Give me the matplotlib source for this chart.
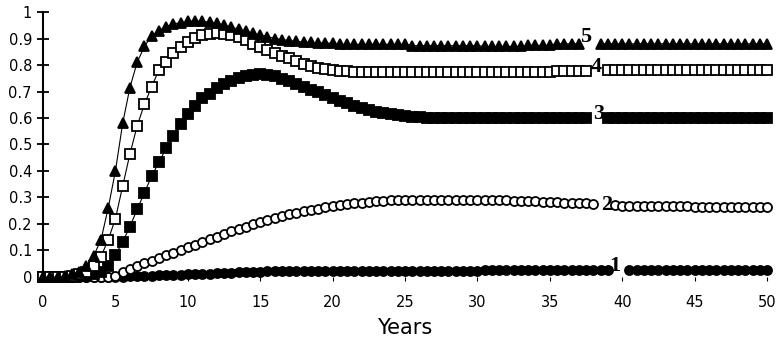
import matplotlib
matplotlib.use("Agg")
import matplotlib.pyplot as plt
import numpy as np

nan = np.nan

# years, every half year from 0 to 50
years = np.arange(0, 50.5, 0.5)

# series 5 (filled triangles)
s5 = ([0, 0, 0, 0.003, 0.01, 0.02, 0.04, 0.08, 0.14, 0.26, 0.40, 0.58, 0.715,
       0.81, 0.87, 0.91, 0.93, 0.945, 0.955, 0.96, 0.965, 0.966, 0.965, 0.962,
       0.957, 0.95, 0.943, 0.935, 0.927, 0.92, 0.913, 0.907, 0.90, 0.896, 0.892,
       0.889, 0.887, 0.885, 0.884, 0.883, 0.882]
      + [0.878] * 10 + [0.873] * 10 + [0.87] * 6 + [0.874] * 4 + [0.88] * 4
      + [nan] * 2 + [0.88] * 24)

# series 4 (open squares)
s4 = ([0, 0, 0, 0, 0.005, 0.012, 0.02, 0.04, 0.077, 0.14, 0.22, 0.343, 0.464,
       0.57, 0.652, 0.718, 0.78, 0.812, 0.844, 0.868, 0.888, 0.902, 0.912, 0.918,
       0.92, 0.917, 0.912, 0.905, 0.893, 0.88, 0.868, 0.857, 0.846, 0.835, 0.825,
       0.815, 0.805, 0.797, 0.79, 0.785, 0.781, 0.778, 0.776]
      + [0.774] * 14 + [0.772] * 14 + [0.776] * 5 + [nan] * 2 + [0.78] * 23)

# series 3 (filled squares)
s3 = ([0, 0, 0, 0, 0, 0.002, 0.005, 0.01, 0.02, 0.04, 0.083, 0.133, 0.19,
       0.255, 0.318, 0.38, 0.433, 0.485, 0.532, 0.577, 0.615, 0.645, 0.674,
       0.692, 0.712, 0.727, 0.74, 0.75, 0.757, 0.763, 0.765, 0.763, 0.757,
       0.748, 0.738, 0.728, 0.718, 0.707, 0.697, 0.687, 0.677, 0.666, 0.656,
       0.646, 0.637, 0.63, 0.624, 0.619, 0.614, 0.61, 0.607, 0.604, 0.602]
      + [0.60] * 23 + [nan] * 2 + [0.60] * 23)

# series 2 (open circles)
s2 = ([0] * 10
      + [0.005, 0.018, 0.03, 0.042, 0.052, 0.062, 0.072, 0.082, 0.092, 0.102,
         0.112, 0.122, 0.132, 0.142, 0.152, 0.162, 0.172, 0.181, 0.19, 0.199,
         0.207, 0.215, 0.222, 0.229, 0.236, 0.242, 0.248, 0.253, 0.258, 0.263,
         0.267, 0.271, 0.275, 0.278, 0.281, 0.284, 0.286, 0.288]
      + [0.29] * 16
      + [0.289, 0.288, 0.287, 0.286, 0.285, 0.284, 0.283, 0.282, 0.281, 0.28,
         0.279, 0.278, 0.277]
      + [nan] * 2 + [0.27] + [0.268] * 10 + [0.265] * 11)

# series 1 (filled circles)
s1 = ([0] * 12
      + [0.002, 0.003, 0.004, 0.005, 0.006, 0.007, 0.008, 0.009, 0.010, 0.011,
         0.012, 0.013, 0.014, 0.015, 0.016, 0.017, 0.018, 0.019, 0.020]
      + [0.021] * 10 + [0.023] * 20 + [0.025] * 18 + [nan] * 2 + [0.026] * 20)

curve_labels = ["1", "2", "3", "4", "5"]
label_x = [39.5, 38.9, 38.35, 38.2, 37.5]
label_y = [0.04, 0.272, 0.614, 0.792, 0.905]

fig = plt.figure(figsize=(7.81, 3.44), dpi=100)
ax = fig.add_axes([0.0551, 0.1948, 0.927, 0.7703])

kw = dict(color="black", lw=0.8, mec="black", mew=1.3, clip_on=False)
ax.plot(years, s1, marker="o", ms=6.5, mfc="black", **kw)
ax.plot(years, s2, marker="o", ms=6.5, mfc="white", **kw)
ax.plot(years, s3, marker="s", ms=6.5, mfc="black", **kw)
ax.plot(years, s4, marker="s", ms=6.5, mfc="white", **kw)
ax.plot(years, s5, marker="^", ms=7.5, mfc="black", **kw)

for t, x, y in zip(curve_labels, label_x, label_y):
    ax.text(x, y, t, ha="center", va="center", fontsize=16, fontweight="bold",
            family="Liberation Serif", color="black")

ax.set_xlim(0, 50)
ax.set_ylim(0, 1)
ax.set_xticks(np.arange(0, 51, 5))
ax.set_yticks(np.arange(0, 1.01, 0.1))
ax.set_yticklabels(["0", "0.1", "0.2", "0.3", "0.4", "0.5", "0.6", "0.7",
                    "0.8", "0.9", "1"])

for side in ["top", "right", "bottom"]:
    ax.spines[side].set_visible(False)
ax.spines["left"].set_linewidth(1.5)

ax.tick_params(axis="y", direction="inout", length=8, width=1.3, pad=4,
               labelsize=10.5)
ax.tick_params(axis="x", direction="out", length=3, width=0.8, pad=10,
               labelsize=10.5)
ax.set_xlabel("Years", fontsize=15, labelpad=6)

fig.savefig("out.png", dpi=100)
